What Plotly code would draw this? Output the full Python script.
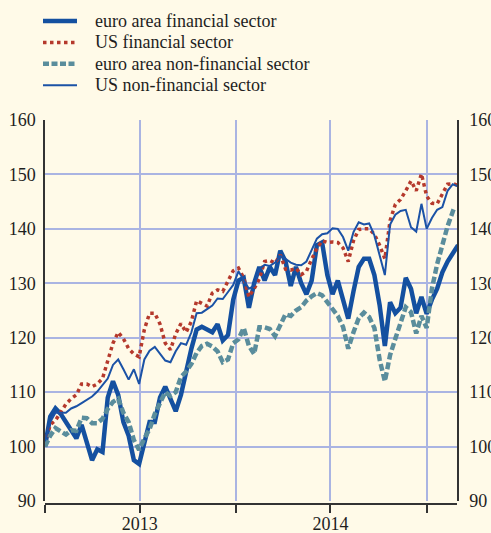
import pandas as pd
import plotly.graph_objects as go

# ================================
# Dados
# ================================
datas = pd.date_range("2013-01-01", periods=80, freq="10D")

euro_fin = [100, 105.5, 107, 106, 104.5, 103, 101.5, 104, 101, 97.5,
            99.5, 99, 109, 112, 109.5, 104.5, 102, 97.5, 96.8, 100.5,
            104.5, 104.5, 109, 111, 108.5, 106.5, 109.5, 114, 118, 121.5,
            122, 121.5, 121, 122.5, 119.5, 120.5, 127, 130.5, 131, 125.5,
            130, 133, 130.5, 133, 131.5, 136, 134, 129.5, 133, 130,
            128, 130.5, 137, 137.5, 131.5, 128, 130.5, 127, 123.5, 128.5,
            133, 134.5, 134.5, 131.5, 126, 118.5, 126.5, 124.5, 125.5, 131,
            129, 124.5, 127.5, 124.4, 127, 129, 132, 134, 135.5, 137]

us_fin = [100.5, 104, 104.8, 106.4, 107.8, 108.8, 109.5, 111.5, 111.5, 111,
          111.5, 112.5, 115.5, 119, 121, 119.8, 118, 117, 116.5, 121.5,
          124.5, 124.5, 122.5, 119, 117.8, 120.7, 122.6, 121, 123, 126.8,
          126.3, 125.8, 128.2, 128.8, 128.5, 130.3, 132.3, 132.8, 131, 127.5,
          129, 130.8, 134, 134.2, 133.7, 135.2, 132.6, 132.4, 132.8, 131.6,
          132.2, 134.4, 136.4, 137.8, 137.5, 137.6, 137.5, 136.5, 134, 137.8,
          139.9, 140, 140, 139, 137, 134.5, 141.5, 144.5, 145.4, 147,
          148.8, 147, 150.1, 146, 144.7, 144.6, 146.4, 148.2, 148.3, 148]

euro_nfin = [100, 102, 103.4, 102.8, 102.2, 103, 102.9, 105.3, 105.2, 104.3,
             104.3, 105.1, 106.9, 108.2, 108.8, 106.2, 104.5, 101.2, 99.4, 101.5,
             103.2, 106, 108.2, 110, 109.3, 110, 112.8, 113.8, 115.2, 117.2,
             118.5, 118.9, 118.4, 117.5, 115.5, 116, 119, 119.7, 121.8, 118.5,
             117, 121.9, 121.9, 121.6, 120.3, 122.2, 124.3, 124, 125, 125.6,
             126.8, 127.6, 128.2, 127.8, 126.6, 125.2, 124, 122, 118, 121,
             123.6, 124.6, 123.8, 121.8, 116, 112, 116.8, 119.8, 122.6, 125.6,
             124.7, 120.8, 124, 121.8, 129, 133.5, 137, 140.5, 143.2, 142.8]

us_nfin = [101, 104.5, 106.2, 106.2, 106.2, 107, 107.4, 108, 108.6, 109.2,
           110.1, 111.2, 112.5, 115, 116, 114.2, 112.3, 114.2, 111.5, 116,
           117.6, 118.3, 117, 115.8, 115.5, 117.5, 119, 118.7, 121, 124.5,
           124.6, 125.2, 125.9, 127.2, 127.1, 128.4, 129.7, 132.2, 130.5, 129,
           129.5, 132.6, 133.4, 133.2, 133.8, 135, 134.5, 133.8, 133.4, 133.3,
           134, 136, 138.2, 139, 139.2, 140.1, 140, 138.5, 136, 139.4,
           141.2, 140.8, 141, 138.8, 135, 131.5, 140.8, 142.6, 143.3, 143.5,
           140.3, 139.5, 144.6, 140, 142, 143.5, 144, 147, 148.2, 147.8]

series = ["euro area financial sector", "US financial sector",
          "euro area non-financial sector", "US non-financial sector"]

marcas_x = ["2013-01-01", "2013-07-01", "2014-01-01", "2014-07-01", "2015-01-01"]
rotulos_x = ["", "2013", "", "2014", ""]
marcas_y = [90, 100, 110, 120, 130, 140, 150, 160]

# ================================
# Figura
# ================================
fundo = "#fffae8"
grade = "#aab4e2"
eixo = "#333333"
fonte = dict(family="Liberation Serif", size=18, color="#1e1e1e")

estilos = [
    dict(color="#1450a0", width=4.5),
    dict(color="#b5392c", width=3.5, dash="3.5px,3.5px"),
    dict(color="#5a8d9c", width=4.5, dash="7px,3px"),
    dict(color="#1b52a6", width=2),
]

fig = go.Figure()
for nome, valores, estilo in zip(series, [euro_fin, us_fin, euro_nfin, us_nfin], estilos):
    fig.add_trace(go.Scatter(x=datas, y=valores, name=nome, mode="lines",
                             line=estilo, showlegend=False))
# eixo direito (só para os rótulos)
fig.add_trace(go.Scatter(x=[datas[0]], y=[100], yaxis="y2", mode="lines",
                         showlegend=False, hoverinfo="skip", line=dict(width=0)))

# legenda desenhada à mão (espaçamento mais apertado que o da legenda do plotly)
W, H = 412, 384
for i, (nome, estilo) in enumerate(zip(series, estilos)):
    py = 21 + i * 21.4
    yp = (H - (py - 120)) / H
    amostra = dict(estilo)
    if "dash" in amostra:
        amostra["dash"] = "3.5px,3.5px" if i == 1 else "6px,2.5px"
    fig.add_shape(type="line", xref="paper", yref="paper",
                  x0=(43 - 45) / W, x1=(77 - 45) / W, y0=yp, y1=yp,
                  line=amostra)
    fig.add_annotation(text=nome, xref="paper", yref="paper",
                       x=(93 - 45) / W, y=yp, xanchor="left", yanchor="middle",
                       showarrow=False, font=dict(family="Liberation Serif", size=18,
                                                  color="#1e1e1e"))

fig.update_layout(
    width=491, height=533,
    paper_bgcolor=fundo, plot_bgcolor=fundo,
    margin=dict(l=45, r=34, t=120, b=29, autoexpand=False),
    font=fonte,
    showlegend=False,
    xaxis=dict(type="date", range=["2013-01-01", "2015-02-28"],
               tickvals=marcas_x, ticktext=rotulos_x,
               showgrid=True, gridcolor=grade, gridwidth=1.5,
               showline=True, linecolor=eixo, linewidth=1.5,
               ticks="outside", ticklen=8, tickwidth=1.5, tickcolor=eixo,
               ticklabelstandoff=-4,
               anchor="free", position=0, zeroline=False, automargin=False),
    yaxis=dict(range=[90, 160], domain=[3 / 384, 1], tickvals=marcas_y,
               showgrid=True, gridcolor=grade, gridwidth=1.5,
               showline=True, linecolor=eixo, linewidth=1.5,
               ticks="", ticklabelstandoff=4, zeroline=False, automargin=False),
    yaxis2=dict(range=[90, 160], overlaying="y", side="right", tickvals=marcas_y,
                showgrid=False, showline=True, linecolor=eixo, linewidth=1.5,
                ticks="", ticklabelstandoff=7, zeroline=False, automargin=False),
)

fig.write_html("out.html", config={"displayModeBar": False},
               post_script="document.body.style.margin='0';")
